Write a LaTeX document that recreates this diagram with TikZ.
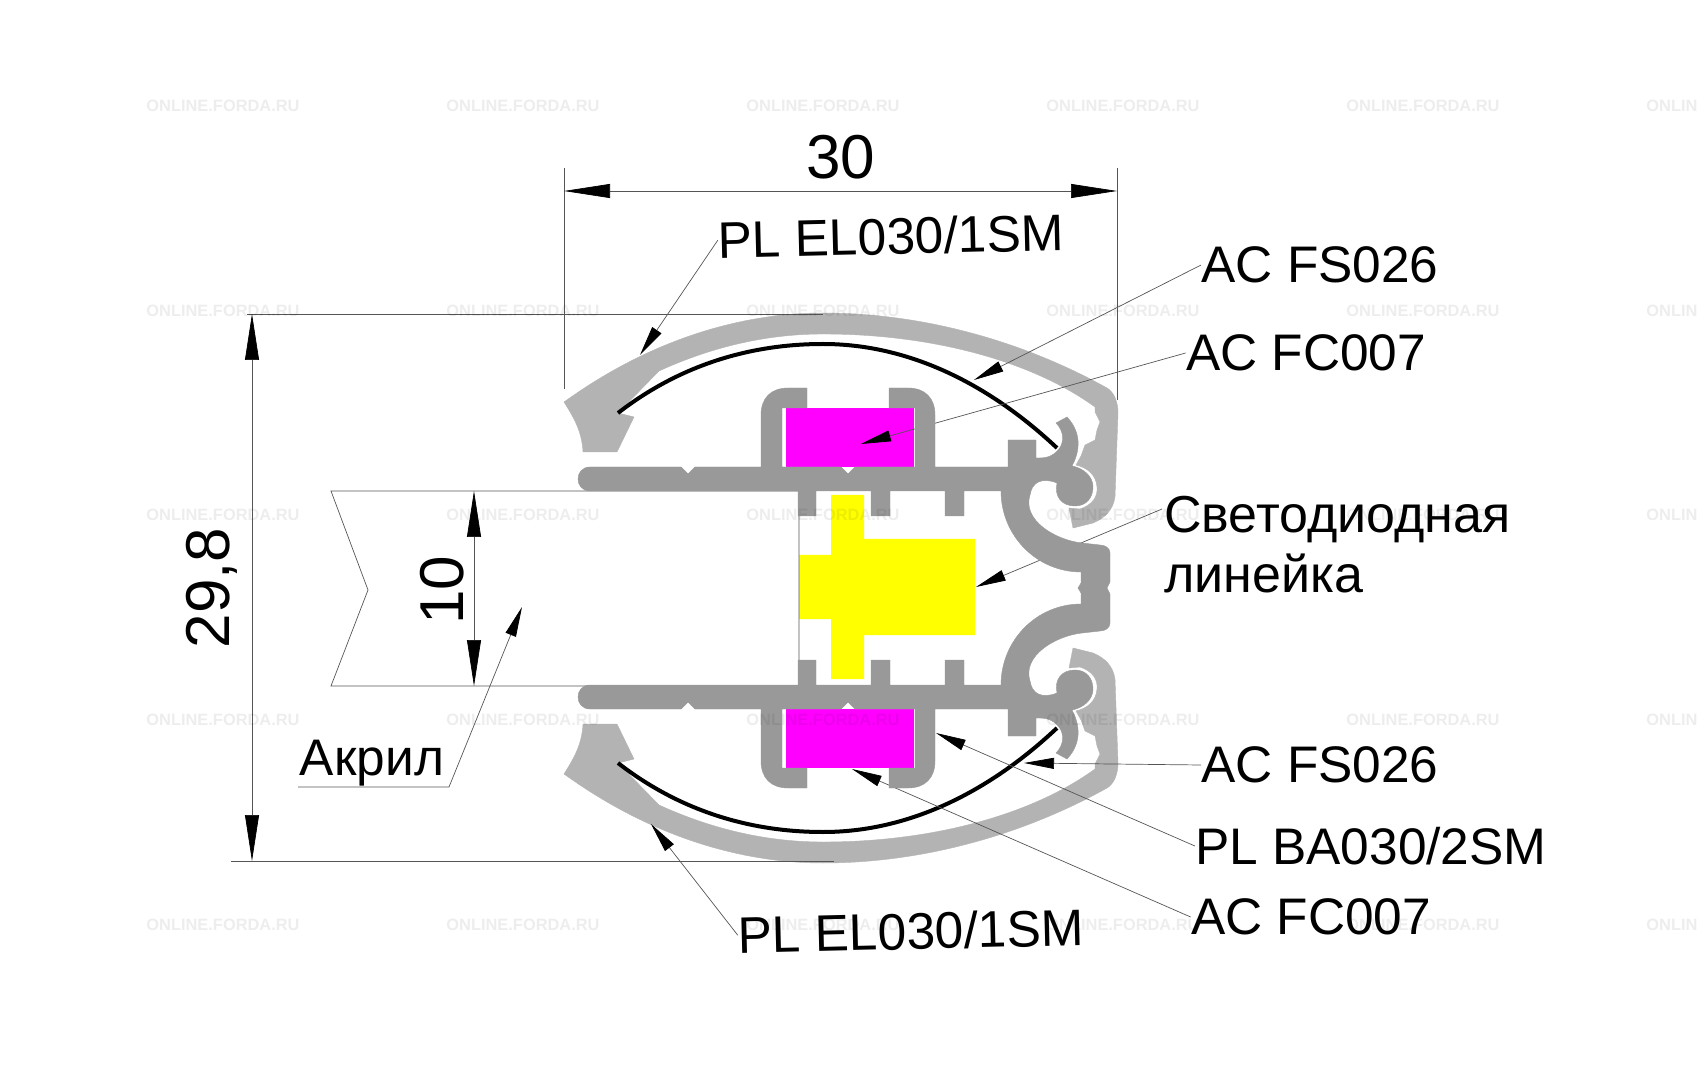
\documentclass[tikz,border=0pt]{standalone}
\usepackage{fontspec}
\setmainfont{Liberation Sans}
\usetikzlibrary{arrows.meta}
\definecolor{shellgray}{HTML}{B3B3B3}
\definecolor{bodygray}{HTML}{999999}
\definecolor{linegray}{HTML}{555555}
\definecolor{gasket}{HTML}{FF00FF}
\definecolor{ledstrip}{HTML}{FFFF00}
\tikzset{
  lab/.style={inner sep=0pt,font=\fontsize{25.7}{30}\selectfont},
  dimlab/.style={inner sep=0pt,font=\fontsize{31}{34}\selectfont},
  sitemark/.style={inner sep=0pt,font=\bfseries\fontsize{8.2}{10}\selectfont,opacity=.07},
  thin line/.style={draw=linegray,line width=.35pt},
  leader/.style={thin line,-{Triangle[length=15pt,width=5.5pt,color=black,fill=black]}},
  dimline/.style={thin line,
    {Triangle[length=23pt,width=7pt,color=black,fill=black]}-{Triangle[length=23pt,width=7pt,color=black,fill=black]}},
  shell/.style={fill=shellgray,draw=shellgray,line width=.2pt},
  profile/.style={fill=bodygray,draw=bodygray,line width=.2pt},
  spring/.style={draw=black,line width=2pt}
}
\newcommand{\shellpath}{
  (564,402) .. controls (650,340) and (740,313) .. (823,313)
  .. controls (930,313) and (1030,345) .. (1107,388)
  .. controls (1114,392) and (1118,402) .. (1118,413)
  -- (1115,497) .. controls (1113,510) and (1105,518) .. (1093,523)
  -- (1073,528) -- (1069,508) -- (1080,509)
  .. controls (1092,505) and (1098,497) .. (1097,487)
  .. controls (1096,475) and (1088,468) .. (1076,465)
  -- (1081,456) -- (1085,445) -- (1095,440) -- (1097,430) -- (1100,422)
  -- (1095,412) -- (1095,407)
  .. controls (1030,360) and (930,334) .. (823,334)
  .. controls (760,334) and (705,350) .. (659,371)
  -- (618,413) -- (634,417) -- (617,452) -- (583,452)
  .. controls (582,430) and (572,415) .. (564,402) -- cycle}
\newcommand{\springpath}{
  (618,413) .. controls (680,365) and (750,344) .. (823,344)
  .. controls (910,344) and (990,385) .. (1057,448)}
\newcommand{\profilepath}{
  (1107,588) -- (1110,582) -- (1110,553)
  .. controls (1110,548) and (1105,545) .. (1100,545) -- (1082,543)
  .. controls (1055,540) and (1022,520) .. (1030,495)
  .. controls (1032,482) and (1042,477) .. (1057,483)
  .. controls (1054,497) and (1062,506) .. (1075,506)
  .. controls (1086,506) and (1093,498) .. (1093,487)
  .. controls (1093,476) and (1083,468) .. (1072,466)
  .. controls (1078,455) and (1084,435) .. (1067,417) -- (1056,423)
  .. controls (1065,432) and (1064,444) .. (1058,450)
  .. controls (1053,456) and (1047,458) .. (1040,458)
  -- (1036,458) -- (1036,440) -- (1008,440) -- (1008,467)
  -- (935,467) -- (935,415) .. controls (935,398) and (925,388) .. (908,388)
  -- (889,388) -- (889,408) -- (915,408) -- (915,467)
  -- (855,467) -- (848,474) -- (841,467)
  -- (782,467) -- (782,408) -- (807,408) -- (807,388) -- (788,388)
  .. controls (771,388) and (761,398) .. (761,415) -- (761,467)
  -- (695,467) -- (688,474) -- (681,467) -- (590,467)
  .. controls (574,467) and (574,491) .. (590,491)
  -- (798,491) -- (798,516) -- (816,516) -- (816,491)
  -- (871,491) -- (871,516) -- (890,516) -- (890,491)
  -- (945,491) -- (945,516) -- (964,516) -- (964,491) -- (1001,491)
  .. controls (1001,536) and (1037,572) .. (1081,572)
  -- (1081,583) -- (1078,588) -- cycle}
\begin{document}
\begin{tikzpicture}[x=.5pt,y=-.5pt]
  \useasboundingbox (0,0) rectangle (1698,1080);
  \clip (0,0) rectangle (1698,1080);
  % frame pieces
  \fill[shell] \shellpath;
  \begin{scope}[shift={(0,1176)},yscale=-1]
    \fill[shell] \shellpath;
  \end{scope}
  \fill[gasket] (786,408) rectangle (914,467);
  \fill[gasket] (786,709) rectangle (914,768);
  \fill[ledstrip] (831,495) -- (864,495) -- (864,539) -- (975,539) -- (975,635)
    -- (864,635) -- (864,679) -- (831,679) -- (831,619) -- (799,619)
    -- (799,555) -- (831,555) -- cycle;
  \draw[spring] \springpath;
  \begin{scope}[shift={(0,1176)},yscale=-1]
    \draw[spring] \springpath;
  \end{scope}
  % labels and free ends
  \draw
    (891,236) node[lab,rotate=1.4] (el1){PL EL030/1SM}
    (1320,265) node[lab] (fs1){AC FS026}
    (1306,353) node[lab] (fc1){AC FC007}
    (1164,545) node[lab,font=\fontsize{26}{30}\selectfont,anchor=west,align=left] (led){Светодиодная\\линейка}
    (1320,765) node[lab] (fs2){AC FS026}
    (1371,846) node[lab] (ba){PL BA030/2SM}
    (1311,917) node[lab] (fc2){AC FC007}
    (911,931) node[lab,rotate=1.4] (el2){PL EL030/1SM}
    (372,763) node[lab] (ak){Акрил}
    (841,157) node[dimlab] (d30){30}
    (212,588) node[dimlab,rotate=90] (d29){29,8}
    (442,590) node[dimlab,rotate=90] (d10){10}
    (640,355) coordinate (tel1)
    (974,380) coordinate (tfs1)
    (861,444) coordinate (tfc1)
    (976,587) coordinate (tled)
    (1162,509) coordinate (sled)
    (1024,763) coordinate (tfs2)
    (936,733) coordinate (tba)
    (852,769) coordinate (tfc2)
    (651,824) coordinate (tel2)
    (522,607) coordinate (tak)
    (298,787) coordinate (ak1)
    (449,787) coordinate (ak2)
    (564,191) coordinate (a30)
    (1117,191) coordinate (b30)
    (252,314) coordinate (a29)
    (252,861) coordinate (b29)
    (474,491) coordinate (a10)
    (474,686) coordinate (b10);
  % acrylic sheet
  \draw[thin line] (799,491) -- (331,491) -- (368,590) -- (331,686) -- (799,686) -- cycle;
  % extension lines
  \begin{scope}[thin line]
    \draw (564,168) to (564,389);
    \draw (1117,168) to (1117,400);
    \draw (247,314) to (823,314);
    \draw (231,861) to (834,861);
  \end{scope}
  % dimensions
  \begin{scope}[dimline]
    \draw (a30) to (b30);
    \draw (a29) to (b29);
    \draw (a10) to (b10);
  \end{scope}
  % leaders
  \begin{scope}[leader]
    \draw (el1.west) to (tel1);
    \draw (fs1.west) to (tfs1);
    \draw (fc1.west) to (tfc1);
    \draw (sled) to (tled);
    \draw (fs2.west) to (tfs2);
    \draw (ba.west) to (tba);
    \draw (fc2.west) to (tfc2);
    \draw (el2.west) to (tel2);
    \draw (ak1) -- (ak2) to (tak);
  \end{scope}
  % body
  \fill[profile] \profilepath;
  \begin{scope}[shift={(0,1176)},yscale=-1]
    \fill[profile] \profilepath;
  \end{scope}
  % site marks
  \foreach \i in {223,523,823,1123,1423,1723}
    \foreach \j in {106,311,515,720,925}
      \node[sitemark] (m\i\j) at (\i,\j) {ONLINE.FORDA.RU};
\end{tikzpicture}
\end{document}
